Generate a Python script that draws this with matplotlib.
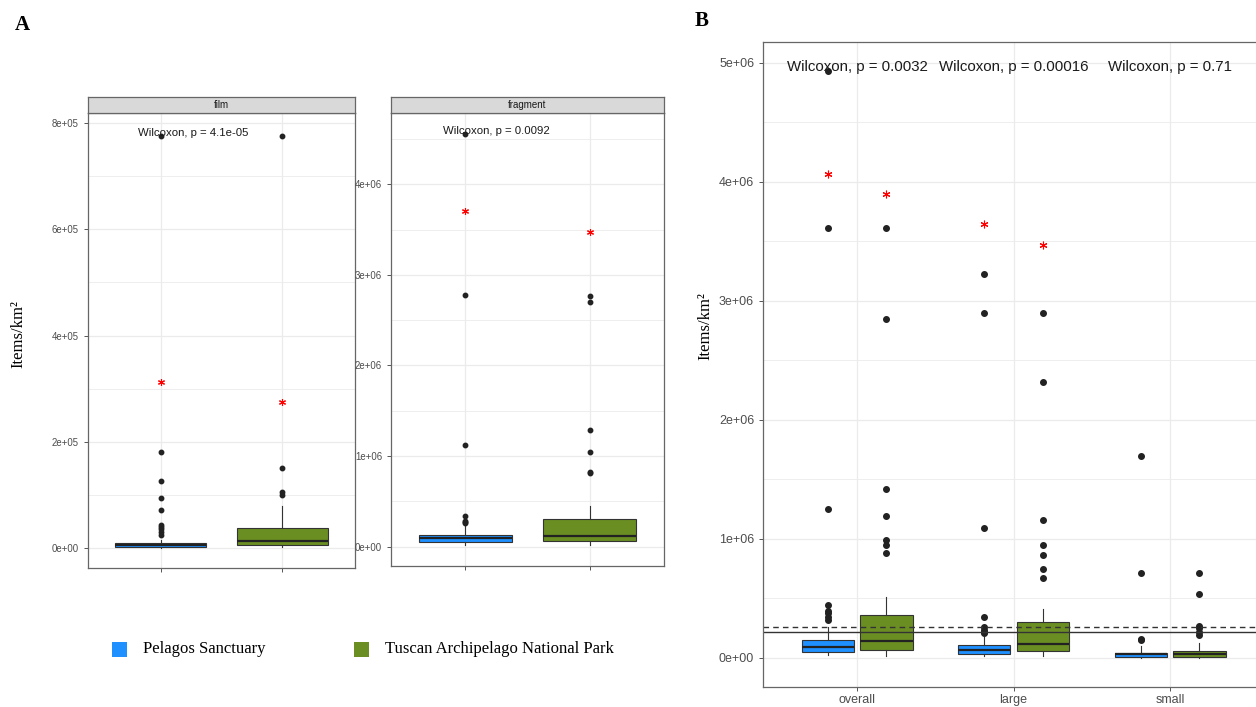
import matplotlib
matplotlib.use("Agg")
import matplotlib.pyplot as plt
from matplotlib.patches import Rectangle

# colours of the two areas
areas = ["Pelagos Sanctuary", "Tuscan Archipelago National Park"]
area_colors = ["#1E90FF", "#6B8E23"]

# ---- panel A: film (values in items/km2) ----
film_pelagos = dict(whislo=0, q1=2.5e3, med=5e3, q3=10e3, whishi=16e3,
                    fliers=[24e3, 31e3, 36e3, 40e3, 44e3, 72e3, 95e3, 126e3, 181e3, 776e3])
film_tuscan = dict(whislo=2e3, q1=5e3, med=12.6e3, q3=38.3e3, whishi=80e3,
                   fliers=[99e3, 106e3, 151e3, 775e3])
film_star_y = [313e3, 275e3]
film_p = "Wilcoxon, p = 4.1e-05"

# ---- panel A: fragment ----
frag_pelagos = dict(whislo=20e3, q1=48e3, med=92e3, q3=132e3, whishi=240e3,
                    fliers=[258e3, 275e3, 287e3, 339e3, 1.119e6, 2.775e6, 4.552e6])
frag_tuscan = dict(whislo=20e3, q1=59e3, med=118e3, q3=309e3, whishi=453e3,
                   fliers=[810e3, 828e3, 1.049e6, 1.284e6, 2.705e6, 2.771e6])
frag_star_y = [3.709e6, 3.478e6]
frag_p = "Wilcoxon, p = 0.0092"

# ---- panel B: overall / large / small ----
b_groups = ["overall", "large", "small"]
b_pelagos = [
    dict(whislo=23e3, q1=50e3, med=92e3, q3=148e3, whishi=261e3,
         fliers=[317e3, 345e3, 373e3, 395e3, 440e3, 1.252e6, 3.613e6, 4.93e6]),
    dict(whislo=14e3, q1=31e3, med=65e3, q3=104e3, whishi=177e3,
         fliers=[205e3, 218e3, 231e3, 261e3, 342e3, 1.09e6, 2.899e6, 3.227e6]),
    dict(whislo=0, q1=8e3, med=28e3, q3=42e3, whishi=98e3,
         fliers=[149e3, 160e3, 712e3, 1.698e6]),
]
b_tuscan = [
    dict(whislo=14e3, q1=65e3, med=143e3, q3=359e3, whishi=513e3,
         fliers=[882e3, 947e3, 989e3, 1.193e6, 1.418e6, 2.849e6, 3.613e6]),
    dict(whislo=14e3, q1=56e3, med=115e3, q3=303e3, whishi=406e3,
         fliers=[667e3, 745e3, 866e3, 944e3, 1.157e6, 2.317e6, 2.899e6]),
    dict(whislo=0, q1=8e3, med=31e3, q3=59e3, whishi=121e3,
         fliers=[191e3, 218e3, 247e3, 266e3, 533e3, 712e3]),
]
b_star_pelagos = [4.067e6, 3.642e6, None]
b_star_tuscan = [3.897e6, 3.466e6, None]
b_pvalues = ["Wilcoxon, p = 0.0032", "Wilcoxon, p = 0.00016", "Wilcoxon, p = 0.71"]
b_median_line = 213e3
b_mean_line = 258e3

W, H = 1256, 707
fig = plt.figure(figsize=(W / 100, H / 100), dpi=100)
fig.patch.set_facecolor("white")

SANS = ["Liberation Sans", "DejaVu Sans"]
SERIF = ["Liberation Serif", "DejaVu Serif"]


def px_axes(left, top, right, bottom):
    return fig.add_axes([left / W, 1 - bottom / H, (right - left) / W, (bottom - top) / H])


def style_axes(ax, ylim, yticks, yminor, ticksize):
    ax.set_ylim(*ylim)
    ax.set_yticks(yticks)
    ax.set_yticks(yminor, minor=True)
    ax.set_yticklabels(["%.0e" % t for t in yticks],
                       fontsize=ticksize, color="#4D4D4D", family=SANS)
    ax.grid(True, which="major", color="#EBEBEB", lw=0.9)
    ax.grid(True, which="minor", axis="y", color="#EBEBEB", lw=0.6)
    ax.set_axisbelow(True)
    ax.tick_params(which="major", length=3, color="#555555", width=0.7)
    ax.tick_params(which="minor", length=0)
    for s in ax.spines.values():
        s.set_color("#666666")
        s.set_linewidth(0.9)


def draw_boxes(ax, stats, positions, width, color, msize):
    return ax.bxp(stats, positions=positions, widths=width, patch_artist=True,
                  showcaps=False, manage_ticks=False,
                  boxprops=dict(facecolor=color, edgecolor="#333333", linewidth=0.8),
                  medianprops=dict(color="#222222", linewidth=1.6),
                  whiskerprops=dict(color="#333333", linewidth=0.8),
                  flierprops=dict(marker="o", markerfacecolor="#222222",
                                  markeredgecolor="#222222", markersize=msize))


def strip(left, top, right, bottom, label):
    sax = px_axes(left, top, right, bottom)
    sax.set_facecolor("#D9D9D9")
    sax.set_xticks([])
    sax.set_yticks([])
    for s in sax.spines.values():
        s.set_color("#666666")
        s.set_linewidth(0.9)
    sax.text(0.5, 0.5, label, ha="center", va="center", fontsize=7, color="#1A1A1A",
             family=SANS, transform=sax.transAxes)


def stars(ax, xs, ys, size):
    ax.plot(xs, ys, ls="none", marker=(6, 2, 0), color="red", ms=size, mew=0.8)


# ---------------- panel A, film ----------------
ax1 = px_axes(88, 113, 355, 568)
for i, (st, c) in enumerate(zip([film_pelagos, film_tuscan], area_colors)):
    draw_boxes(ax1, [st], [i + 1], 0.75, c, 3.2)
ax1.set_xlim(0.4, 2.6)
ax1.set_xticks([1, 2])
ax1.set_xticklabels([])
style_axes(ax1, (-37.6e3, 818.8e3), [0, 2e5, 4e5, 6e5, 8e5], [1e5, 3e5, 5e5, 7e5], 6.9)
stars(ax1, [1, 2], film_star_y, 5)
ax1.text(0.812, 781e3, film_p, ha="left", va="center", fontsize=8.2, color="#1A1A1A", family=SANS)
strip(88, 97, 355, 113, "film")

# ---------------- panel A, fragment ----------------
ax2 = px_axes(391, 113, 664, 566)
for i, (st, c) in enumerate(zip([frag_pelagos, frag_tuscan], area_colors)):
    draw_boxes(ax2, [st], [i + 1], 0.75, c, 3.2)
ax2.set_xlim(0.4, 2.6)
ax2.set_xticks([1, 2])
ax2.set_xticklabels([])
style_axes(ax2, (-213e3, 4.786e6), [0, 1e6, 2e6, 3e6, 4e6], [0.5e6, 1.5e6, 2.5e6, 3.5e6, 4.5e6], 6.9)
stars(ax2, [1, 2], frag_star_y, 5)
ax2.text(0.819, 4.588e6, frag_p, ha="left", va="center", fontsize=8.2, color="#1A1A1A", family=SANS)
strip(391, 97, 664, 113, "fragment")

fig.text(18 / W, 1 - 334 / H, "Items/km²", rotation=90, ha="center", va="center",
         fontsize=12, family=SERIF)
fig.text(22 / W, 1 - 25 / H, "A", ha="center", va="center", fontsize=15,
         fontweight="bold", family=SERIF)

# legend
for lx, tx, name, c in zip([112, 354], [143, 385], areas, area_colors):
    fig.patches.append(Rectangle((lx / W, 1 - 657 / H), 15 / W, 15 / H, facecolor=c,
                                 edgecolor="none", transform=fig.transFigure))
    fig.text(tx / W, 1 - 649 / H, name, ha="left", va="center", fontsize=12, family=SERIF)

# ---------------- panel B ----------------
ax3 = px_axes(763.2, 42, 1264, 687)
xpos = [1, 2, 3]
off = 0.1875
for i in range(3):
    draw_boxes(ax3, [b_pelagos[i]], [xpos[i] - off], 0.335, area_colors[0], 4)
    draw_boxes(ax3, [b_tuscan[i]], [xpos[i] + off], 0.335, area_colors[1], 4)
    for dx, sy in [(-off, b_star_pelagos[i]), (off, b_star_tuscan[i])]:
        if sy is not None:
            stars(ax3, [xpos[i] + dx], [sy], 5.5)
ax3.axhline(b_median_line, color="#333333", lw=1.0)
ax3.axhline(b_mean_line, color="#333333", lw=1.0, ls=(0, (4, 3)))
ax3.set_xlim(0.4, 3.6)
ax3.set_xticks(xpos)
ax3.set_xticklabels(b_groups, fontsize=9, color="#4D4D4D", family=SANS)
style_axes(ax3, (-246e3, 5.174e6), [0, 1e6, 2e6, 3e6, 4e6, 5e6],
           [0.5e6, 1.5e6, 2.5e6, 3.5e6, 4.5e6], 9)
ax3.tick_params(axis="x", pad=2)
for lx, lab in zip([0.551, 1.523, 2.601], b_pvalues):
    ax3.text(lx, 4.967e6, lab, ha="left", va="center", fontsize=10.8, color="#1A1A1A", family=SANS)

fig.text(705 / W, 1 - 326 / H, "Items/km²", rotation=90, ha="center", va="center",
         fontsize=12, family=SERIF)
fig.text(702 / W, 1 - 21 / H, "B", ha="center", va="center", fontsize=15,
         fontweight="bold", family=SERIF)

fig.savefig("out.png", dpi=100)
